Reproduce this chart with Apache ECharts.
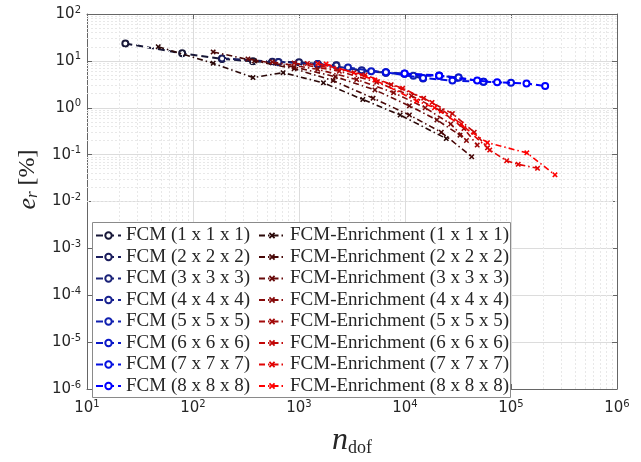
<!DOCTYPE html>
<html><head><meta charset="utf-8">
<script src="https://cdn.jsdelivr.net/npm/echarts@6/dist/echarts.min.js"></script>
<style>html,body{margin:0;padding:0;background:#fff}#c{width:641px;height:462px}</style>
</head><body><div id="c"></div>
<script>
// ---- data (n_dof, e_r in %) ----
const fcmNames = ['FCM (1 x 1 x 1)','FCM (2 x 2 x 2)','FCM (3 x 3 x 3)','FCM (4 x 4 x 4)','FCM (5 x 5 x 5)','FCM (6 x 6 x 6)','FCM (7 x 7 x 7)','FCM (8 x 8 x 8)'];
const enrNames = ['FCM-Enrichment (1 x 1 x 1)','FCM-Enrichment (2 x 2 x 2)','FCM-Enrichment (3 x 3 x 3)','FCM-Enrichment (4 x 4 x 4)','FCM-Enrichment (5 x 5 x 5)','FCM-Enrichment (6 x 6 x 6)','FCM-Enrichment (7 x 7 x 7)','FCM-Enrichment (8 x 8 x 8)'];

const fcm1 = [[23,23.5],[79,14.5],[188,11.0],[368,9.8],[634,9.4]];
const fcm2 = [[188,11.3],[560,9.6],[1000,9.4],[1500,8.6],[2250,8.1]];
const fcm3 = [[640,9.5],[1500,8.4],[2250,8.0],[3900,6.1],[6600,5.6]];
const fcm4 = [[1500,8.6],[3900,6.3],[6600,5.7],[9900,5.3],[14800,4.2]];
const fcm5 = [[2900,7.2],[6600,5.6],[12000,4.8],[21000,4.8],[32000,4.4]];
const fcm6 = [[4800,6.0],[9900,5.3],[21000,4.9],[32000,4.4],[55000,3.6]];
const fcm7 = [[6600,5.7],[14800,4.3],[28000,3.8],[55000,3.6],[100000,3.4]];
const fcm8 = [[9900,5.4],[21000,4.8],[48000,3.8],[74000,3.5],[140000,3.3],[210000,2.9]];

const enr1 = [[47,20],[155,8.9],[368,4.4],[708,5.6],[1700,3.4],[4000,1.5],[9000,0.7],[24500,0.22]];
const enr2 = [[155,15.5],[380,10],[900,6.8],[2100,3.8],[5000,1.6],[11000,0.7],[22000,0.3],[42600,0.09]];
const enr3 = [[330,11],[900,7.4],[2200,4.6],[5200,2.4],[11000,1.1],[20000,0.55],[33000,0.26]];
const enr4 = [[560,9.5],[1500,6.6],[3500,4.0],[7800,2.1],[15500,1.0],[27000,0.45],[38000,0.2]];
const enr5 = [[900,9.0],[2400,6.0],[5400,3.5],[11500,1.8],[22000,0.85],[36000,0.36],[48000,0.16]];
const enr6 = [[1200,8.8],[3300,5.6],[7400,3.1],[15000,1.6],[28000,0.75],[45000,0.3],[60000,0.14]];
const enr7 = [[1500,8.8],[4200,5.0],[9500,2.6],[18000,1.3],[34000,0.45],[63000,0.125],[91000,0.074],[117000,0.062],[178000,0.051]];
const enr8 = [[1800,8.6],[5200,3.9],[12900,1.4],[19000,1.0],[60000,0.18],[141000,0.109],[260000,0.037]];

const fcmData = [fcm1,fcm2,fcm3,fcm4,fcm5,fcm6,fcm7,fcm8];
const enrData = [enr1,enr2,enr3,enr4,enr5,enr6,enr7,enr8];
const fcmColors = ['#181838','#1a1c5c','#1a2278','#16208f','#1020b0','#0a18c8','#0510e0','#0000ff'];
const enrColors = ['#2a0808','#480808','#680a0a','#860a0a','#a30a0a','#c20808','#e20404','#ff0000'];

const xMin = 10, xMax = 1e6, yMin = 1e-6, yMax = 100;

// ---- chart ----
const chart = echarts.init(document.getElementById('c'), null, {renderer:'canvas'});
const xPath = 'path://M0,2L2,0L5,3L8,0L10,2L7,5L10,8L8,10L5,7L2,10L0,8L3,5Z';

const minorX = [], minorY = [];
for (let d = 1; d < 6; d++) for (let k = 2; k <= 9; k++) minorX.push({xAxis: k * Math.pow(10, d)});
for (let d = -6; d < 2; d++) for (let k = 2; k <= 9; k++) minorY.push({yAxis: k * Math.pow(10, d)});

const series = [];
series.push({
  type:'line', data:[], silent:true, z:1,
  markLine:{silent:true, symbol:'none', label:{show:false}, animation:false,
    lineStyle:{color:'#e8e8e8', type:[2,2], width:1}, data: minorX.concat(minorY)}
});
fcmData.forEach((d,i)=>series.push({
  name: fcmNames[i], type:'line', data:d, z:3+i,
  symbol:'emptyCircle', symbolSize:6,
  itemStyle:{color:fcmColors[i], borderColor:fcmColors[i], borderWidth:1.6},
  lineStyle:{color:fcmColors[i], width:2, type:[7,4]}
}));
enrData.forEach((d,i)=>series.push({
  name: enrNames[i], type:'line', data:d, z:12+i,
  symbol:xPath, symbolSize:5.5,
  itemStyle:{color:enrColors[i]},
  lineStyle:{color:enrColors[i], width:1.6, type:[6,3,1.5,3]}
}));

const supFmt = v => { const e = Math.round(Math.log10(v)); return '{b|10}{s|' + e + '}'; };
const labRich = { b:{fontFamily:'DejaVu Sans', fontSize:15, color:'#262626'}, s:{fontFamily:'DejaVu Sans', fontSize:10, color:'#262626', verticalAlign:'top', padding:[0,0,8,0]} };

const legendCommon = {
  orient:'vertical', top:226, itemGap:2.5, itemHeight:8, padding:0, z:20,
  textStyle:{fontFamily:'Liberation Serif', fontSize:19, color:'#262626'},
  inactiveColor:'#ccc'
};

chart.setOption({
  animation:false,
  backgroundColor:'#fff',
  grid:{left:87, right:24, top:14, bottom:59, show:false},
  xAxis:[{
    type:'log', min:xMin, max:xMax, logBase:10,
    axisLine:{show:true, lineStyle:{color:'#666', width:1}},
    axisTick:{show:true, inside:true, length:5, lineStyle:{color:'#666'}},
    splitLine:{show:true, lineStyle:{color:'#dcdcdc', width:1}},
    axisLabel:{formatter:supFmt, rich:labRich, margin:10},
    name:'{n|n}{d|dof}', nameLocation:'middle', nameGap:36,
    nameTextStyle:{rich:{n:{fontFamily:'Liberation Serif', fontStyle:'italic', fontSize:32, color:'#262626'},
      d:{fontFamily:'Liberation Serif', fontSize:18, color:'#262626', verticalAlign:'bottom'}}}
  },{
    type:'log', min:xMin, max:xMax, position:'top',
    axisLine:{show:true, lineStyle:{color:'#666', width:1}},
    axisTick:{show:true, inside:true, length:5, lineStyle:{color:'#666'}},
    axisLabel:{show:false}, splitLine:{show:false}
  }],
  yAxis:[{
    type:'log', min:yMin, max:yMax, logBase:10,
    axisLine:{show:true, lineStyle:{color:'#666', width:1}},
    axisTick:{show:true, inside:true, length:5, lineStyle:{color:'#666'}},
    splitLine:{show:true, lineStyle:{color:'#dcdcdc', width:1}},
    axisLabel:{formatter:supFmt, rich:labRich, margin:6},
    name:'{z|}{e|e}{r|r}{p| [%]}', nameLocation:'middle', nameGap:44, nameRotate:90,
    nameTextStyle:{rich:{z:{width:44, fontSize:10},
      e:{fontFamily:'Liberation Serif', fontStyle:'italic', fontSize:26, color:'#262626'},
      r:{fontFamily:'Liberation Serif', fontStyle:'italic', fontSize:17, color:'#262626', verticalAlign:'bottom'},
      p:{fontFamily:'Liberation Serif', fontSize:24, color:'#262626'}}}
  },{
    type:'log', min:yMin, max:yMax, position:'right',
    axisLine:{show:true, lineStyle:{color:'#666', width:1}},
    axisTick:{show:true, inside:true, length:5, lineStyle:{color:'#666'}},
    axisLabel:{show:false}, splitLine:{show:false}
  }],
  graphic:[{type:'rect', z:15, shape:{x:92.5, y:222.5, width:418, height:175},
    style:{fill:'#fff', stroke:'#8a8a8a', lineWidth:1}}],
  legend:[
    Object.assign({}, legendCommon, {left:95, itemWidth:25, data:fcmNames}),
    Object.assign({}, legendCommon, {left:258, itemWidth:26, data:enrNames})
  ],
  series: series
});
</script>
</body></html>
